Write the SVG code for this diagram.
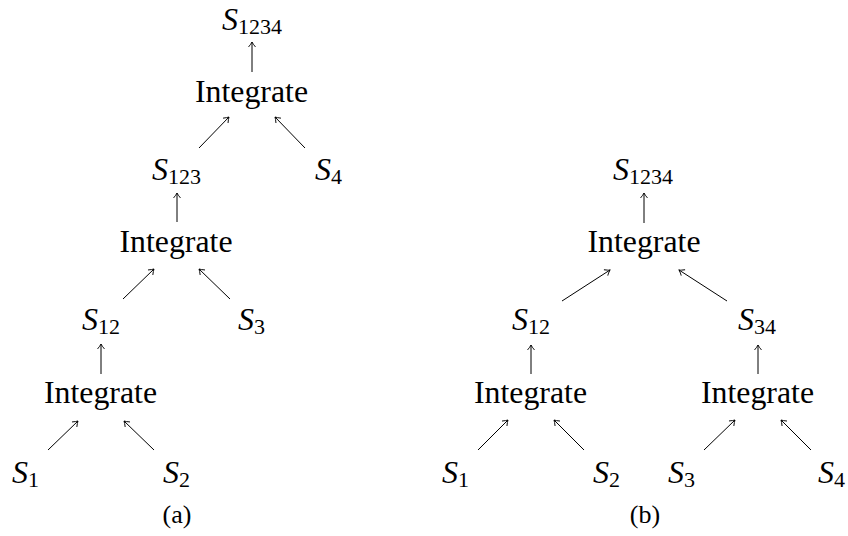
<svg xmlns="http://www.w3.org/2000/svg" width="848" height="536" viewBox="0 0 848 536">
<style>
text{font-family:"Liberation Serif","DejaVu Serif",serif;fill:#000}
.int{font-size:32px;text-anchor:middle}
.s{font-size:32px}
.v{font-style:italic}
.sub{font-size:22px}
.cap{font-size:26px;text-anchor:middle}
.e line{stroke:#000;stroke-width:1;marker-end:url(#ah)}
</style>
<defs>
<marker id="ah" markerWidth="10" markerHeight="10" refX="0" refY="0" viewBox="-6 -5 8 10" orient="auto" markerUnits="userSpaceOnUse">
<path d="M-5,-3.5 Q-2,-1 0,0 Q-2,1 -5,3.5" fill="none" stroke="#000" stroke-width="0.9"/>
</marker>
</defs>
<g id="treeA">
<g id="a_s1234"><text class="s" x="222" y="30"><tspan class="v">S</tspan><tspan class="sub" dy="4">1234</tspan></text></g>
<g id="a_int1"><text class="int" x="251.5" y="102" textLength="113" lengthAdjust="spacingAndGlyphs">Integrate</text></g>
<g id="a_s123"><text class="s" x="152" y="180"><tspan class="v">S</tspan><tspan class="sub" dy="4">123</tspan></text></g>
<g id="a_s4"><text class="s" x="315" y="180"><tspan class="v">S</tspan><tspan class="sub" dy="4">4</tspan></text></g>
<g id="a_int2"><text class="int" x="176" y="252" textLength="113" lengthAdjust="spacingAndGlyphs">Integrate</text></g>
<g id="a_s12"><text class="s" x="82" y="330"><tspan class="v">S</tspan><tspan class="sub" dy="4">12</tspan></text></g>
<g id="a_s3"><text class="s" x="238" y="330"><tspan class="v">S</tspan><tspan class="sub" dy="4">3</tspan></text></g>
<g id="a_int3"><text class="int" x="100.5" y="403" textLength="113" lengthAdjust="spacingAndGlyphs">Integrate</text></g>
<g id="a_s1"><text class="s" x="12" y="483"><tspan class="v">S</tspan><tspan class="sub" dy="4">1</tspan></text></g>
<g id="a_s2"><text class="s" x="163" y="483"><tspan class="v">S</tspan><tspan class="sub" dy="4">2</tspan></text></g>
<g id="a_cap"><text class="cap" x="177" y="523">(a)</text></g>
</g>
<g id="treeB">
<g id="b_s1234"><text class="s" x="613" y="180"><tspan class="v">S</tspan><tspan class="sub" dy="4">1234</tspan></text></g>
<g id="b_int1"><text class="int" x="644" y="252" textLength="113" lengthAdjust="spacingAndGlyphs">Integrate</text></g>
<g id="b_s12"><text class="s" x="512" y="330"><tspan class="v">S</tspan><tspan class="sub" dy="4">12</tspan></text></g>
<g id="b_s34"><text class="s" x="738" y="330"><tspan class="v">S</tspan><tspan class="sub" dy="4">34</tspan></text></g>
<g id="b_int2"><text class="int" x="530.5" y="403" textLength="113" lengthAdjust="spacingAndGlyphs">Integrate</text></g>
<g id="b_int3"><text class="int" x="757.5" y="403" textLength="113" lengthAdjust="spacingAndGlyphs">Integrate</text></g>
<g id="b_s1"><text class="s" x="442" y="483"><tspan class="v">S</tspan><tspan class="sub" dy="4">1</tspan></text></g>
<g id="b_s2"><text class="s" x="593" y="483"><tspan class="v">S</tspan><tspan class="sub" dy="4">2</tspan></text></g>
<g id="b_s3"><text class="s" x="668" y="483"><tspan class="v">S</tspan><tspan class="sub" dy="4">3</tspan></text></g>
<g id="b_s4"><text class="s" x="818" y="483"><tspan class="v">S</tspan><tspan class="sub" dy="4">4</tspan></text></g>
<g id="b_cap"><text class="cap" x="645" y="523">(b)</text></g>
</g>
<g id="edges" class="e">
<line x1="252" y1="72" x2="252" y2="42"/>
<line x1="199" y1="148" x2="229" y2="117"/>
<line x1="305" y1="148" x2="275" y2="117"/>
<line x1="177" y1="222" x2="177" y2="193"/>
<line x1="123" y1="299" x2="154" y2="269"/>
<line x1="230" y1="299" x2="199" y2="269"/>
<line x1="101" y1="374" x2="101" y2="344"/>
<line x1="48" y1="450" x2="78" y2="421"/>
<line x1="154" y1="450" x2="124" y2="421"/>
<line x1="644" y1="223" x2="644" y2="193"/>
<line x1="562" y1="301" x2="610" y2="270"/>
<line x1="727" y1="301" x2="679" y2="270"/>
<line x1="531" y1="374" x2="531" y2="345"/>
<line x1="758" y1="374" x2="758" y2="345"/>
<line x1="478" y1="450" x2="508" y2="420"/>
<line x1="584" y1="450" x2="554" y2="420"/>
<line x1="704" y1="450" x2="735" y2="420"/>
<line x1="811" y1="450" x2="781" y2="420"/>
</g>
</svg>
